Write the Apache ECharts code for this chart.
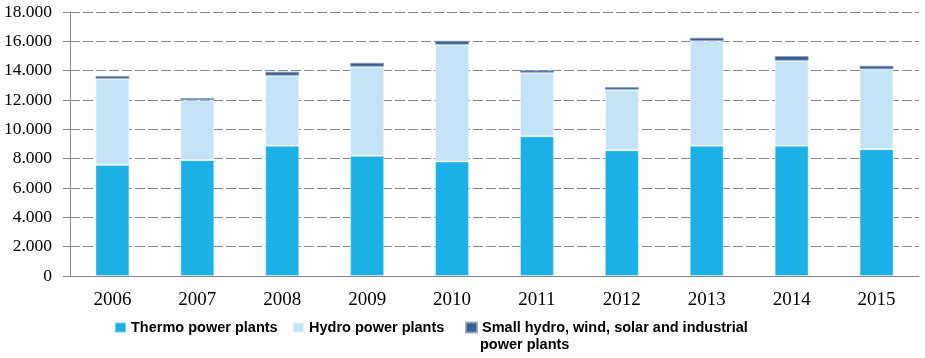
<!DOCTYPE html>
<html><head><meta charset="utf-8">
<script src="https://cdn.jsdelivr.net/npm/echarts@6/dist/echarts.min.js"></script>
<style>html,body{margin:0;padding:0;background:#fff}#c{width:925px;height:358px}</style>
</head><body><div id="c"></div>
<script>
const categories = ['2006','2007','2008','2009','2010','2011','2012','2013','2014','2015'];
const thermo = [7570, 7900, 8880, 8200, 7800, 9520, 8570, 8880, 8880, 8640];
const hydro  = [5880, 4080, 4780, 6070, 7970, 4340, 4130, 7140, 5800, 5450];
const small  = [190, 160, 270, 270, 270, 160, 180, 230, 320, 250];
const names = ['Thermo power plants', 'Hydro power plants', 'Small hydro, wind, solar and industrial power plants'];
const legendLines = ['Small hydro, wind, solar and industrial', 'power plants'];
const colors = ['#1cb1e6', '#c5e3f6', '#375f92'];

const chart = echarts.init(document.getElementById('c'), null, {renderer: 'canvas'});
const legendFont = {fontFamily: '"Liberation Sans", Arial, sans-serif', fontWeight: 'bold', fontSize: 14.5, color: '#000'};
function mkLegend(i, left, extra) {
  return Object.assign({
    data: [names[i]], left: left, top: 320, itemWidth: 11, itemHeight: 10, itemGap: 0,
    icon: 'rect', padding: 0, textStyle: legendFont,
    selectedMode: false
  }, extra || {});
}
chart.setOption({
  animation: false,
  grid: {left: 70, right: 6, top: 12, bottom: 82},
  legend: [
    mkLegend(0, 114),
    mkLegend(1, 292),
    mkLegend(2, 465, {formatter: () => legendLines[0]})
  ],
  graphic: [{
    type: 'text', left: 480, top: 337,
    style: {text: legendLines[1], fill: '#000', font: 'bold 14.5px "Liberation Sans", Arial, sans-serif'}
  }],
  xAxis: {
    type: 'category', data: categories,
    axisLine: {lineStyle: {color: '#868686'}},
    axisTick: {length: 6, lineStyle: {color: '#868686'}},
    axisLabel: {fontFamily: '"Liberation Serif", serif', fontSize: 19, color: '#000', margin: 15}
  },
  yAxis: {
    type: 'value', min: 0, max: 18000, interval: 2000,
    axisLine: {show: true, lineStyle: {color: '#868686'}},
    axisTick: {show: true, length: 7, lineStyle: {color: '#868686'}},
    splitLine: {lineStyle: {color: '#868686', type: [10, 3], width: 1}},
    axisLabel: {fontFamily: '"Liberation Serif", serif', fontSize: 17.5, color: '#000', margin: 18,
      formatter: v => v === 0 ? '0' : (v/1000).toFixed(3)}
  },
  series: [
    {name: names[0], type: 'bar', stack: 's', data: thermo, barWidth: '40%', itemStyle: {color: colors[0], borderColor: 'rgba(255,255,255,0.35)', borderWidth: 1}},
    {name: names[1], type: 'bar', stack: 's', data: hydro, itemStyle: {color: colors[1], borderColor: 'rgba(255,255,255,0.5)', borderWidth: 1}},
    {name: names[2], type: 'bar', stack: 's', data: small, itemStyle: {color: colors[2], borderColor: 'rgba(140,160,190,0.8)', borderWidth: 1}}
  ]
});
</script></body></html>
